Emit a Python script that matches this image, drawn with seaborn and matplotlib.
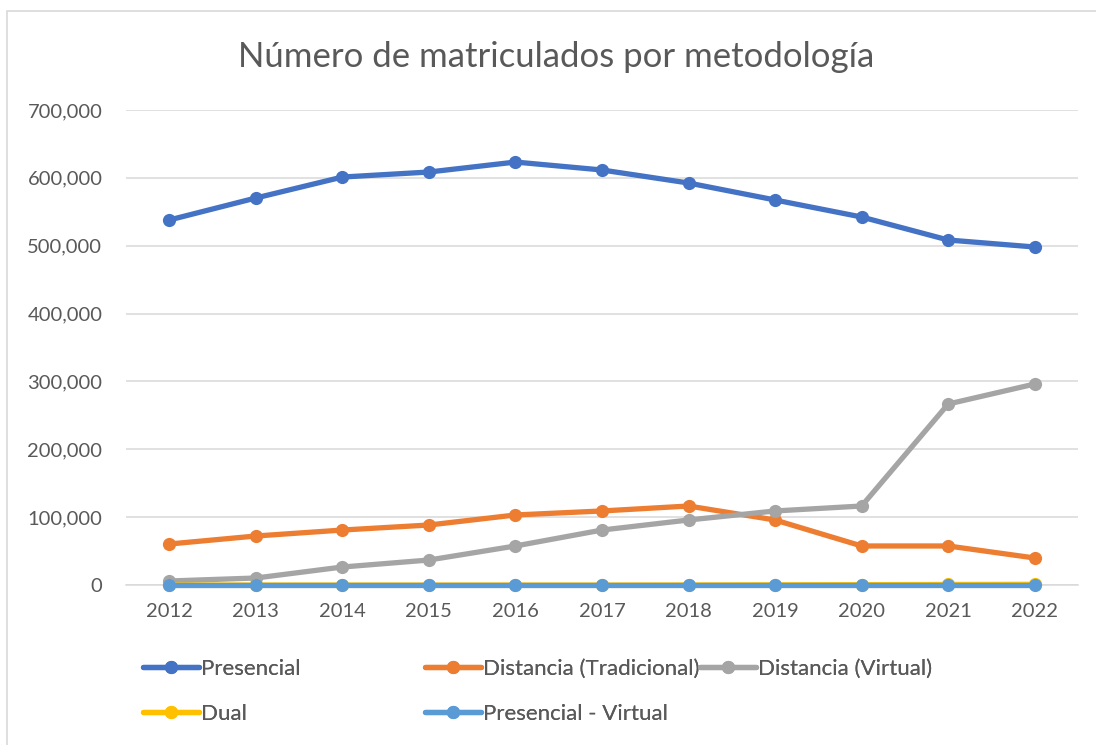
import matplotlib
matplotlib.use("Agg")
import matplotlib.pyplot as plt
from matplotlib.lines import Line2D
from matplotlib.patches import Rectangle
import seaborn as sns
import pandas as pd

years = [2012, 2013, 2014, 2015, 2016, 2017, 2018, 2019, 2020, 2021, 2022]
presencial = [537900, 570300, 601200, 608600, 623300, 611600, 592400, 567400, 542300, 508400, 498100]
dist_trad = [60400, 72200, 81000, 88400, 103200, 109100, 116400, 95800, 57500, 57500, 39800]
dist_virt = [5900, 10300, 26500, 36800, 57500, 81000, 95800, 109100, 116400, 266700, 296200]
dual = [0, 0, 0, 0, 0, 0, 100, 300, 500, 800, 1000]
pres_virt = [0, 0, 0, 0, 0, 0, 0, 0, 0, 0, 0]

names = ["Presencial", "Distancia (Tradicional)", "Distancia (Virtual)", "Dual", "Presencial - Virtual"]
series = [presencial, dist_trad, dist_virt, dual, pres_virt]
colors = ["#4472C4", "#ED7D31", "#A5A5A5", "#FFC000", "#5B9BD5"]
yticks = [0, 100000, 200000, 300000, 400000, 500000, 600000, 700000]
title = "Número de matriculados por metodología"

rows = []
for n, s in zip(names, series):
    for y, v in zip(years, s):
        rows.append({"Año": y, "Valor": v, "Serie": n})
df = pd.DataFrame(rows)

sns.set_theme(style="white")
plt.rcParams["font.family"] = ["Lato", "DejaVu Sans"]

W, H = 1096, 745
fig = plt.figure(figsize=(W / 100, H / 100), dpi=100)
ax = fig.add_axes([126 / W, 1 - 585 / H, (1078 - 126) / W, (585 - 110) / H])

for i, (n, c) in enumerate(zip(names, colors)):
    sub = df[df["Serie"] == n]
    sns.lineplot(data=sub, x="Año", y="Valor", ax=ax, color=c, linewidth=3.8,
                 marker="o", markersize=9.5, markeredgewidth=0, legend=False,
                 solid_capstyle="round", clip_on=False, zorder=3 + i)

ax.set_xlim(2011.5, 2022.5)
ax.set_ylim(0, 700000)
ax.set_xticks(years)
ax.set_xticklabels([str(y) for y in years])
ax.set_yticks(yticks)
ax.set_yticklabels([f"{v:,}" for v in yticks])
ax.set_xlabel("")
ax.set_ylabel("")
ax.grid(axis="y", color="#D9D9D9", linewidth=1.1)
ax.set_axisbelow(True)
for sp in ["top", "right", "left"]:
    ax.spines[sp].set_visible(False)
ax.spines["bottom"].set_color("#D9D9D9")
ax.spines["bottom"].set_linewidth(1.1)
ax.spines["bottom"].set_zorder(0.5)
ax.tick_params(axis="both", length=0, labelsize=14.5, colors="#595959")
ax.tick_params(axis="y", pad=17)
ax.tick_params(axis="x", pad=13)

fig.text(556 / W, 1 - 57 / H, title, ha="center", va="center", fontsize=25, color="#595959")

# chart border
fig.add_artist(Rectangle((7 / W, -0.1), 1.2, 1 - 11 / H + 0.1, transform=fig.transFigure,
                         fill=False, edgecolor="#D9D9D9", linewidth=1.2))

# legend entries positioned like the reference
pos = {"Presencial": (143, 669), "Distancia (Tradicional)": (425, 669),
       "Distancia (Virtual)": (700, 669), "Dual": (143, 714), "Presencial - Virtual": (425, 714)}
for n, c in zip(names, colors):
    h = Line2D([], [], color=c, linewidth=3.8, marker="o", markersize=9.5, markeredgewidth=0,
               solid_capstyle="round")
    x, y = pos[n]
    lg = fig.legend(handles=[h], labels=[n], loc="center left", bbox_to_anchor=(x / W, 1 - y / H),
                    frameon=False, fontsize=16, handlelength=2.5, handletextpad=0.12,
                    borderpad=0, borderaxespad=0, labelcolor="#595959")
    fig.add_artist(lg)

fig.savefig("out.png", dpi=100)
